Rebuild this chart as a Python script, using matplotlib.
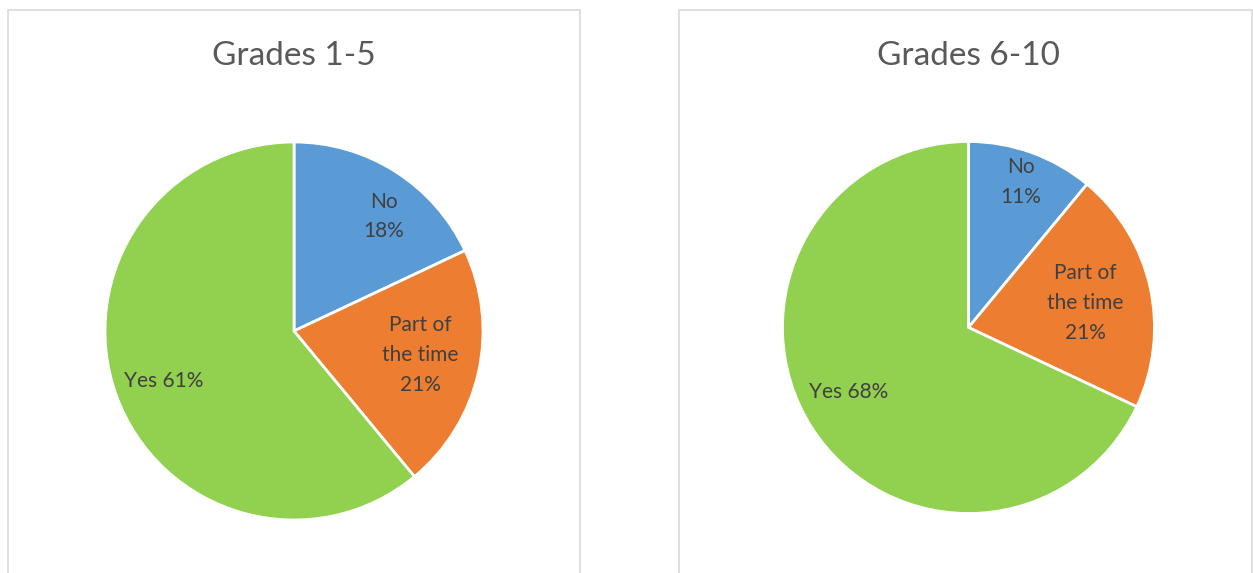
import matplotlib.pyplot as plt
import numpy as np
from matplotlib.patches import Rectangle

plt.rcParams['font.family'] = ['Lato', 'DejaVu Sans']

titles = ["Grades 1-5", "Grades 6-10"]
categories = ["No", "Part of\nthe time", "Yes"]
grades_1_5 = [18, 21, 61]
grades_6_10 = [11, 21, 68]
colors = ["#5B9BD5", "#ED7D31", "#92D050"]

W, H = 1253, 573
fig = plt.figure(figsize=(W / 100, H / 100), dpi=100)
ax = fig.add_axes([0, 0, 1, 1])
ax.set_xlim(0, W)
ax.set_ylim(0, H)
ax.set_aspect('equal')
ax.axis('off')

# chart frames (pixel layout)
for x0, x1 in [(8, 580), (679, 1252)]:
    ax.add_patch(Rectangle((x0, -10), x1 - x0, H - 10 + 10, fill=False,
                           edgecolor="#D9D9D9", linewidth=1.2))

# center, radius, label (angle offset in deg, distance as fraction of radius)
panels = [
    (grades_1_5, (294, H - 331), 189, [(-5.6, 0.77), (1.8, 0.68), (1.2, 0.74)]),
    (grades_6_10, (968.5, H - 327.5), 186, [(0, 0.83), (-0.7, 0.64), (-4, 0.73)]),
]

for (values, center, radius, label_pos), title in zip(panels, titles):
    wedges, _ = ax.pie(values, colors=colors, startangle=90, counterclock=False,
                       center=center, radius=radius,
                       wedgeprops=dict(edgecolor="white", linewidth=2))
    for w, cat, v, (off, d) in zip(wedges, categories, values, label_pos):
        ang = np.deg2rad((w.theta1 + w.theta2) / 2 + off)
        tx = center[0] + d * radius * np.cos(ang)
        ty = center[1] + d * radius * np.sin(ang)
        if cat == "Yes":
            label = "{} {}%".format(cat, v)
        else:
            label = "{}\n{}%".format(cat, v)
        ax.text(tx, ty, label, ha="center", va="center", fontsize=15,
                color="#404040", linespacing=1.6)
    ax.text(center[0], H - 56, title, ha="center", va="center",
            fontsize=24, color="#595959")

ax.set_xlim(0, W)
ax.set_ylim(0, H)

plt.savefig("out.png", dpi=100)
